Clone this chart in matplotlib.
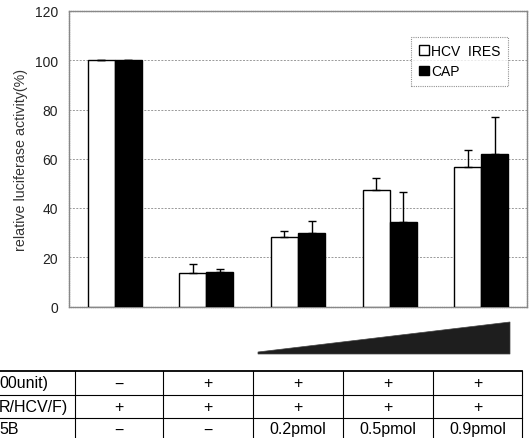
import numpy as np
import matplotlib
matplotlib.use("Agg")
import matplotlib.pyplot as plt
from matplotlib.patches import Polygon
from matplotlib.lines import Line2D

plt.rcParams['font.family'] = ['Liberation Sans', 'DejaVu Sans']

# data
groups = [0, 1, 2, 3, 4]
ires = [100, 13.6, 28.2, 47.3, 56.6]
ires_err = [0, 3.6, 2.4, 4.8, 6.9]
cap = [100, 14.0, 29.8, 34.3, 61.9]
cap_err = [0, 1.2, 4.9, 12.2, 15.1]

row_labels = ["00unit)", "R/HCV/F)", "5B"]
table_vals = [
    ["\u2212", "+", "+", "+", "+"],
    ["+", "+", "+", "+", "+"],
    ["\u2212", "\u2212", "0.2pmol", "0.5pmol", "0.9pmol"],
]

W, H = 529, 439
fig = plt.figure(figsize=(W / 100, H / 100), dpi=100)

def fx(px):
    return px / W

def fy(py):
    return 1 - py / H

ax = fig.add_axes([fx(69), fy(307.5), fx(527) - fx(69), fy(12) - fy(307.5)])
x = np.array(groups)
bw = 0.295
ax.bar(x - bw / 2, ires, bw, color='white', edgecolor='black', linewidth=1.0,
       yerr=[np.zeros(len(ires)), ires_err], capsize=3,
       error_kw=dict(elinewidth=1.0, capthick=1.0, ecolor='black'), label='HCV  IRES', zorder=3)
ax.bar(x + bw / 2, cap, bw, color='black', edgecolor='black', linewidth=1.0,
       yerr=[np.zeros(len(cap)), cap_err], capsize=3,
       error_kw=dict(elinewidth=1.0, capthick=1.0, ecolor='black'), label='CAP', zorder=3)

ax.set_xlim(-0.5, 4.5)
ax.set_ylim(0, 120)
ax.set_yticks([0, 20, 40, 60, 80, 100, 120])
ax.set_xticks([])
ax.tick_params(axis='y', length=0, pad=8, labelsize=10, colors='#222222')
ax.yaxis.grid(True, color='#999999', linestyle=(0, (2, 1.5)), linewidth=0.7)
ax.set_axisbelow(True)
for s in ax.spines.values():
    s.set_color('#888888')
    s.set_linestyle((0, (1, 0.6)))
    s.set_linewidth(1.0)
ax.set_ylabel("relative luciferase activity(%)", fontsize=10.3, color='#333333', labelpad=5)

leg = ax.legend(loc='upper left', bbox_to_anchor=(0.732, 0.937), fontsize=10,
                frameon=True, fancybox=False, handlelength=0.7, handleheight=0.7,
                handletextpad=0.2, borderpad=0.55, labelspacing=0.45)
leg.get_frame().set_edgecolor('#777777')
leg.get_frame().set_linestyle((0, (1, 1)))
leg.get_frame().set_linewidth(0.8)

# concentration wedge
wedge = Polygon([(fx(258), fy(353)), (fx(510), fy(323)), (fx(510), fy(355)), (fx(258), fy(355))],
                closed=True, transform=fig.transFigure, facecolor='#1e1e1e', edgecolor='#444444',
                linewidth=0.5)
fig.patches.append(wedge)

# condition table
vlines = [75, 163, 253, 343, 433, 522]
hlines = [372, 396, 419]
for i, yy in enumerate(hlines):
    fig.add_artist(Line2D([0, fx(522)], [fy(yy), fy(yy)], transform=fig.transFigure,
                          color='black', linewidth=1.3 if i == 0 else 0.8))
for xx in vlines:
    fig.add_artist(Line2D([fx(xx), fx(xx)], [fy(372), 0], transform=fig.transFigure,
                          color='black', linewidth=0.8))
row_y = [384, 407.5, 430]
for r, lab in enumerate(row_labels):
    fig.text(fx(-1), fy(row_y[r]), lab, ha='left', va='center', fontsize=11.5)
    for c, val in enumerate(table_vals[r]):
        cx = (vlines[c] + vlines[c + 1]) / 2
        fig.text(fx(cx), fy(row_y[r]), val, ha='center', va='center', fontsize=11.5)

fig.savefig("out.png", dpi=100)
